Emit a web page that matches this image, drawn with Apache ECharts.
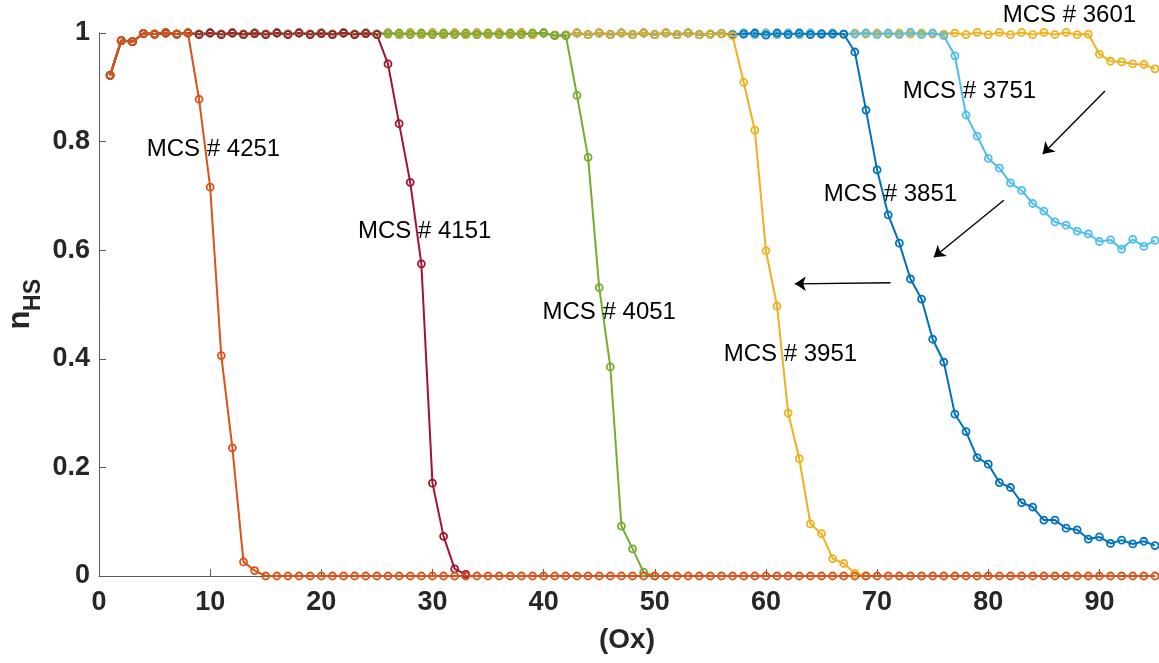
<!DOCTYPE html>
<html>
<head>
<meta charset="utf-8">
<script src="https://cdn.jsdelivr.net/npm/echarts@6/dist/echarts.min.js"></script>
<style>
html,body{margin:0;padding:0;background:#fff;}
#chart{width:1159px;height:663px;}
</style>
</head>
<body>
<div id="chart"></div>
<script>
// ---- DATA (x = 1, 2, 3, ... for each array) ----
const xLabelTicks = [0, 10, 20, 30, 40, 50, 60, 70, 80, 90];
const yLabelTicks = [0, 0.2, 0.4, 0.6, 0.8, 1];

const mcs3601 = [
  0.922,0.986,0.984,0.999,0.998,1.000,0.998,1.000,
  0.998,1.000,0.998,1.000,0.998,1.000,0.998,1.000,0.998,1.000,0.998,1.000,0.998,1.000,0.998,1.000,0.998,
  1.000,0.997,1.000,0.997,1.000,0.997,1.000,0.997,1.000,0.997,1.000,0.997,1.000,0.997,1.000,0.996,0.996,
  1.000,0.997,1.000,0.997,1.000,0.997,1.000,0.997,1.000,0.997,1.000,0.997,0.998,0.999,0.997,
  1.000,0.997,1.000,0.997,1.000,0.997,1.000,0.997,1.000,0.998,
  1.000,0.998,1.000,0.998,1.000,0.998,1.000,0.998,0.998,
  1.000,0.997,1.001,0.997,1.001,0.997,1.001,0.997,1.001,0.997,1.001,0.997,0.998,
  0.961,0.948,0.947,0.943,0.942,0.934
];
const mcs3751 = [
  0.922,0.986,0.984,0.999,0.998,1.000,0.998,1.000,
  0.998,1.000,0.998,1.000,0.998,1.000,0.998,1.000,0.998,1.000,0.998,1.000,0.998,1.000,0.998,1.000,0.998,
  1.000,0.997,1.000,0.997,1.000,0.997,1.000,0.997,1.000,0.997,1.000,0.997,1.000,0.997,1.000,0.996,0.996,
  1.000,0.997,1.000,0.997,1.000,0.997,1.000,0.997,1.000,0.997,1.000,0.997,0.998,0.999,0.997,
  1.000,0.997,1.000,0.997,1.000,0.997,1.000,0.997,1.000,0.998,
  0.998,1.000,0.997,1.000,0.997,1.001,0.997,1.000,0.995,
  0.958,0.849,0.810,0.769,0.751,0.724,0.710,0.686,0.672,0.652,0.646,0.635,0.630,0.616,0.619,0.602,0.620,0.607,0.618
];
const mcs3851 = [
  0.922,0.986,0.984,0.999,0.998,1.000,0.998,1.000,
  0.998,1.000,0.998,1.000,0.998,1.000,0.998,1.000,0.998,1.000,0.998,1.000,0.998,1.000,0.998,1.000,0.998,
  1.000,0.997,1.000,0.997,1.000,0.997,1.000,0.997,1.000,0.997,1.000,0.997,1.000,0.997,1.000,0.996,0.996,
  1.000,0.997,1.000,0.997,1.000,0.997,1.000,0.997,1.000,0.997,1.000,0.997,0.998,0.999,0.997,
  0.998,1.000,0.996,1.000,0.997,1.000,0.997,0.999,0.998,0.998,
  0.965,0.858,0.748,0.665,0.613,0.547,0.510,0.436,0.394,0.298,0.266,0.218,0.206,0.172,
  0.163,0.135,0.127,0.103,0.103,0.088,0.085,0.068,0.072,0.060,0.066,0.059,0.064,0.056
];
const mcs3951 = [
  0.922,0.986,0.984,0.999,0.998,1.000,0.998,1.000,
  0.998,1.000,0.998,1.000,0.998,1.000,0.998,1.000,0.998,1.000,0.998,1.000,0.998,1.000,0.998,1.000,0.998,
  1.000,0.997,1.000,0.997,1.000,0.997,1.000,0.997,1.000,0.997,1.000,0.997,1.000,0.997,1.000,0.996,0.996,
  1.000,0.997,1.000,0.997,1.000,0.997,1.000,0.997,1.000,0.997,1.000,0.997,0.998,0.999,0.995,
  0.909,0.821,0.599,0.497,0.300,0.216,0.096,0.078,0.032,0.023,0.005,0.000
];
const mcs4051 = [
  0.922,0.986,0.984,0.999,0.998,1.000,0.998,1.000,
  0.998,1.000,0.998,1.000,0.998,1.000,0.998,1.000,0.998,1.000,0.998,1.000,0.998,1.000,0.998,1.000,0.998,
  0.998,1.000,0.997,1.000,0.997,1.000,0.997,1.000,0.997,1.000,0.997,1.000,0.997,1.000,1.000,0.995,0.995,
  0.885,0.771,0.531,0.385,0.092,0.050,0.007,0.000
];
const mcs4151 = [
  0.922,0.986,0.984,0.999,0.998,1.000,0.998,1.000,
  0.997,1.000,0.997,1.000,0.997,0.999,0.997,1.000,0.997,1.000,0.997,0.999,0.997,1.000,0.997,0.999,0.997,
  0.943,0.833,0.725,0.575,0.171,0.073,0.013,0.003
];
const mcs4251 = [
  0.922,0.986,0.984,0.999,0.998,1.001,0.998,1.000,
  0.878,0.716,0.406,0.236,0.026,0.010,
  0,0,0,0,0,0,0,0,0,0,
  0,0,0,0,0,0,0,0,0,0,
  0,0,0,0,0,0,0,0,0,0,
  0,0,0,0,0,0,0,0,0,0,
  0,0,0,0,0,0,0,0,0,0,
  0,0,0,0,0,0,0,0,0,0,
  0,0,0,0,0,0,0,0,0,0,
  0,0,0,0,0,0,0,0,0,0,
  0
];

const seriesNames  = ['MCS # 3601','MCS # 3751','MCS # 3851','MCS # 3951','MCS # 4051','MCS # 4151','MCS # 4251'];
const seriesValues = [mcs3601, mcs3751, mcs3851, mcs3951, mcs4051, mcs4151, mcs4251];

// ---- STYLE / LAYOUT ----
const seriesColors = ['#EDB120','#4DBEEE','#0072BD','#EDB120','#77AC30','#A2142F','#D95319'];
// annotation label anchors (data coordinates, left-middle of the text)
const labelAnchors = [
  [81.3, 1.033], [72.3, 0.893], [65.2, 0.703], [56.2, 0.409],
  [39.9, 0.486], [23.3, 0.634], [4.3, 0.785]
];
// arrows in data coordinates [from, to]
const arrows = [
  [[90.5, 0.893], [84.9, 0.777]],
  [[81.4, 0.692], [75.1, 0.587]],
  [[71.2, 0.540], [62.6, 0.538]]
];
const FONT = '"Liberation Sans", Arial, Helvetica, sans-serif';
const TXT = '#262626';
const AXC = '#5a5a5a';

const chart = echarts.init(document.getElementById('chart'), null, {renderer: 'canvas'});

const series = seriesValues.map((vals, i) => ({
  name: seriesNames[i],
  type: 'line',
  data: vals.map((v, k) => [k + 1, v]),
  symbol: 'circle',
  symbolSize: 7,
  showAllSymbol: true,
  clip: false,
  lineStyle: {color: seriesColors[i], width: 2},
  itemStyle: {color: 'rgba(255,255,255,0)', borderColor: seriesColors[i], borderWidth: 1.8},
  emphasis: {disabled: true},
  animation: false
}));

series.push({
  type: 'line',
  data: [],
  silent: true,
  animation: false,
  markLine: {
    silent: true,
    animation: false,
    symbol: ['none', 'arrow'],
    symbolSize: 11,
    label: {show: false},
    lineStyle: {color: '#000', width: 1.4, type: 'solid'},
    data: arrows.map(a => [{coord: a[0]}, {coord: a[1]}])
  }
});

chart.setOption({
  animation: false,
  backgroundColor: '#fff',
  textStyle: {fontFamily: FONT},
  grid: {left: 99, right: 4, top: 33, bottom: 87, containLabel: false},
  xAxis: {
    type: 'value', min: 0, max: 95, interval: 10,
    name: '(Ox)', nameLocation: 'middle', nameGap: 50,
    nameTextStyle: {fontSize: 28, fontWeight: 'bold', color: TXT, fontFamily: FONT},
    axisLine: {show: true, lineStyle: {color: AXC, width: 1}},
    axisTick: {show: true, inside: true, length: 7, lineStyle: {color: AXC}},
    axisLabel: {
      fontSize: 27, fontWeight: 'bold', color: TXT, margin: 13, fontFamily: FONT,
      showMaxLabel: false,
      formatter: v => (xLabelTicks.indexOf(v) >= 0 ? String(v) : '')
    },
    splitLine: {show: false}
  },
  yAxis: {
    type: 'value', min: 0, max: 1, interval: 0.2,
    axisLine: {show: true, lineStyle: {color: AXC, width: 1}},
    axisTick: {show: true, inside: true, length: 7, lineStyle: {color: AXC}},
    axisLabel: {
      fontSize: 27, fontWeight: 'bold', color: TXT, margin: 9, fontFamily: FONT,
      formatter: v => {
        const t = yLabelTicks.find(y => Math.abs(y - v) < 1e-9);
        return t === undefined ? '' : String(t);
      }
    },
    splitLine: {show: false}
  },
  series: series
});

const graphics = labelAnchors.map((p, i) => {
  const px = chart.convertToPixel({gridIndex: 0}, p);
  return {
    type: 'text', x: px[0], y: px[1], silent: true, z: 100,
    style: {text: seriesNames[i], fill: '#000', font: '24px ' + FONT, textAlign: 'left', textVerticalAlign: 'middle'}
  };
});
graphics.push({
  type: 'text', x: 20, y: 320, rotation: Math.PI / 2, silent: true,
  style: {text: 'n', fill: TXT, font: 'bold 31px ' + FONT, textAlign: 'center', textVerticalAlign: 'middle'}
});
graphics.push({
  type: 'text', x: 34, y: 295, rotation: Math.PI / 2, silent: true,
  style: {text: 'HS', fill: TXT, font: 'bold 23px ' + FONT, textAlign: 'center', textVerticalAlign: 'middle'}
});
chart.setOption({graphic: graphics});
</script>
</body>
</html>
